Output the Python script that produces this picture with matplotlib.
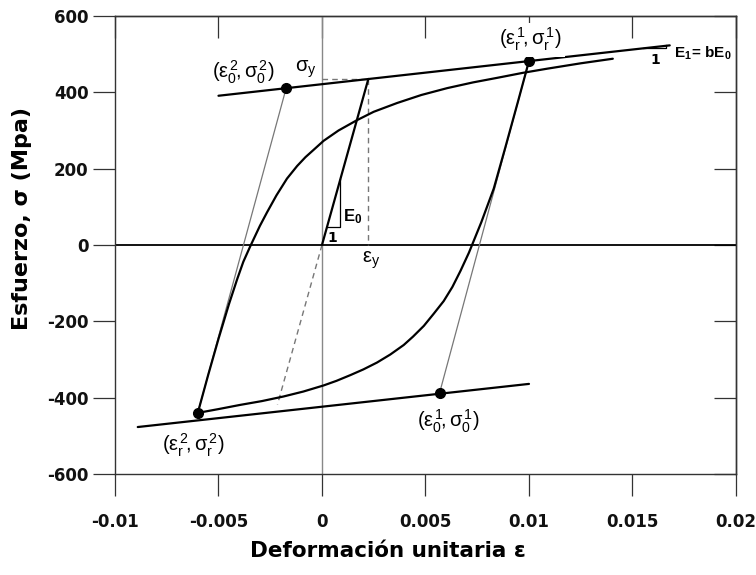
import matplotlib
matplotlib.use("Agg")
import matplotlib.pyplot as plt

plt.rcParams["font.family"] = ["DejaVu Sans"]
plt.rcParams["axes.unicode_minus"] = False
plt.rcParams["mathtext.fontset"] = "custom"
plt.rcParams["mathtext.rm"] = "Liberation Sans"
plt.rcParams["mathtext.it"] = "Liberation Sans"
plt.rcParams["mathtext.bf"] = "Liberation Sans:bold"
plt.rcParams["mathtext.default"] = "rm"

# --- values (strain, stress in MPa) ---
x_ticks = [-0.01, -0.005, 0, 0.005, 0.01, 0.015, 0.02]
x_ticklabels = ["-0.01", "-0.005", "0", "0.005", "0.01", "0.015", "0.02"]
y_ticks = [-600, -400, -200, 0, 200, 400, 600]

# envelope asymptotes (slope E1 = b*E0)
upper_eps = [-0.0050, 0.0168]
upper_sig = [391, 523]
lower_eps = [-0.0089, 0.0100]
lower_sig = [-477, -364]

# initial elastic branch and yield point
elastic_eps = [0.0, 0.00224]
elastic_sig = [0.0, 435]
elastic_ext_eps = [0.0, -0.00215]
elastic_ext_sig = [0.0, -418]

# unloading branch from (eps_r1, sig_r1) to (eps_r2, sig_r2)
unload_eps = [0.01000, 0.00948, 0.00886, 0.00830, 0.00800, 0.00770, 0.00740, 0.00710,
              0.00669, 0.00630, 0.00588, 0.00540, 0.00492, 0.00440, 0.00395, 0.00330,
              0.00266, 0.00200, 0.00137, 0.00070, 0.00008, -0.00090, -0.00186, -0.00290,
              -0.00395, -0.00500, -0.00600]
unload_sig = [482, 378, 256, 148, 104, 60, 20, -20,
              -68, -110, -147, -180, -212, -240, -262, -287,
              -308, -326, -341, -356, -368, -384, -397, -409,
              -419, -430, -440]

# reloading branch from (eps_r2, sig_r2) towards upper asymptote
reload_eps = [-0.00600, -0.00550, -0.00500, -0.00450, -0.00410, -0.00380, -0.00347, -0.00300,
              -0.00266, -0.00220, -0.00169, -0.00120, -0.00080, -0.00041, 0.00008, 0.00080,
              0.00169, 0.00250, 0.00363, 0.00480, 0.00605, 0.00730, 0.00847, 0.00970,
              0.01089, 0.01250, 0.01405]
reload_sig = [-440, -341, -246, -156, -90, -44, -4, 50,
              85, 130, 174, 207, 230, 249, 273, 300,
              327, 349, 372, 393, 411, 426, 438, 451,
              462, 476, 488]

# elastic asymptotes (thin lines) from reversal point to intersection point
asym1_eps = [0.0100, 0.00568]
asym1_sig = [482, -388]
asym2_eps = [-0.0060, -0.00173]
asym2_sig = [-440, 411]

# marked points
dot_eps = [-0.00173, 0.0100, -0.0060, 0.00568]
dot_sig = [411, 482, -440, -388]

fig = plt.figure(figsize=(7.56, 5.75), dpi=100)
ax = fig.add_axes([0.1521, 0.1757, 0.8214, 0.7965])

ax.axvline(0, color="#888888", lw=1.0, zorder=1)
ax.axhline(0, color="black", lw=1.3, zorder=1)

bold = dict(color="black", lw=1.6, solid_capstyle="round", solid_joinstyle="round", zorder=3)
thin = dict(color="#777777", lw=0.9, zorder=2)
dash = dict(color="#777777", lw=1.0, ls=(0, (4, 3)), zorder=2)

ax.plot(upper_eps, upper_sig, **bold)
ax.plot(lower_eps, lower_sig, **bold)
ax.plot(elastic_eps, elastic_sig, **bold)
ax.plot(unload_eps, unload_sig, **bold)
ax.plot(reload_eps, reload_sig, **bold)
ax.plot(asym1_eps, asym1_sig, **thin)
ax.plot(asym2_eps, asym2_sig, **thin)

# yield construction lines
ax.plot(elastic_ext_eps, elastic_ext_sig, **dash)
ax.plot([0, elastic_eps[1]], [elastic_sig[1]] * 2, **dash)
ax.plot([elastic_eps[1]] * 2, [elastic_sig[1], 0], **dash)

ax.plot(dot_eps, dot_sig, "o", color="black", ms=7, zorder=4)

# slope triangles
ax.plot([0.00025, 0.00089, 0.00089], [48, 48, 172], color="black", lw=0.9, zorder=3)
ax.text(0.00048, 17, "1", fontsize=10, fontweight="bold", ha="center", va="center")
ax.text(0.00102, 74, r"$\mathbf{E_0}$", fontsize=12, ha="left", va="center")

ax.plot([0.0155, 0.0166, 0.0166], [516, 516, 523], color="black", lw=0.9, zorder=3)
ax.text(0.0161, 484, "1", fontsize=10, fontweight="bold", ha="center", va="center")
ax.text(0.01699, 502, r"$\mathbf{E_1\!=\,bE_0}$", fontsize=11, ha="left", va="center")

# point annotations
lab = dict(fontsize=14.5, ha="center", va="center", zorder=6)
ax.text(-0.00378, 453, r"$(ε_0^{\,2}\!,σ_0^{\,2})$", **lab)
ax.text(0.01005, 538, r"$(ε_r^{\,1}\!,σ_r^{\,1})$",
        bbox=dict(facecolor="white", edgecolor="none", pad=2.5), **lab)
ax.text(-0.0062, -524, r"$(ε_r^{\,2}\!,σ_r^{\,2})$", **lab)
ax.text(0.00609, -463, r"$(ε_0^{\,1}\!,σ_0^{\,1})$", **lab)
ax.text(-0.00076, 460, r"$σ_y$", **lab)
ax.text(0.00238, -39, r"$ε_y$", **lab)

ax.set_xlim(-0.01, 0.02)
ax.set_ylim(-600, 600)
ax.set_xticks(x_ticks)
ax.set_xticklabels(x_ticklabels)
ax.set_yticks(y_ticks)
ax.tick_params(direction="out", length=16, width=0.9, colors="#333333",
               labelcolor="#111111", labelsize=12)
ax.tick_params(axis="x", pad=12)
ax.tick_params(axis="y", pad=3)
for t in ax.get_xticklabels() + ax.get_yticklabels():
    t.set_fontweight("bold")

# inward ticks on the top and right frame
top = ax.secondary_xaxis("top")
top.set_xticks(x_ticks)
top.tick_params(direction="in", length=16, width=0.9, colors="#333333", labeltop=False)
right = ax.secondary_yaxis("right")
right.set_yticks(y_ticks)
right.tick_params(direction="in", length=16, width=0.9, colors="#333333", labelright=False)

for s in list(ax.spines.values()) + [top.spines["top"], right.spines["right"]]:
    s.set_color("#333333")
    s.set_linewidth(1.0)

fig.text(22 / 756, 1 - 219 / 575, "Esfuerzo, σ (Mpa)", rotation=90, ha="center",
         va="center", fontsize=16, fontweight="bold")
fig.text(388 / 756, 1 - 551 / 575, "Deformación unitaria ε", ha="center", va="center",
         fontsize=15.5, fontweight="bold")

fig.savefig("out.png", dpi=100)
